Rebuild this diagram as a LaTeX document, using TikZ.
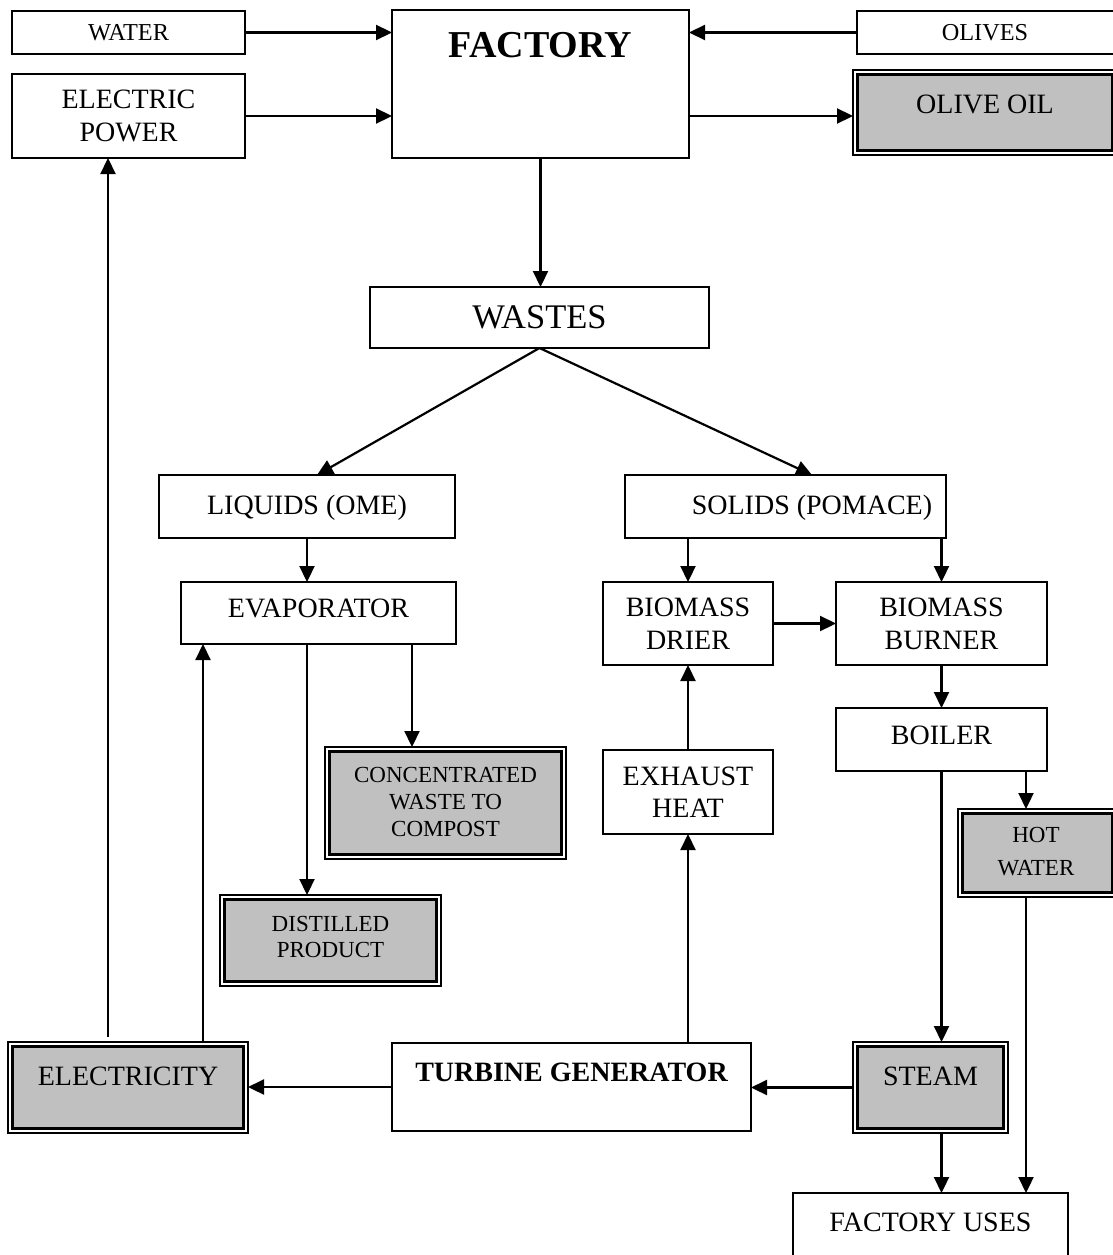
\documentclass[tikz,border=0pt]{standalone}
\usepackage{fontspec}
\setmainfont{Liberation Serif}
\usetikzlibrary{arrows.meta,calc,fit}
\definecolor{boxgray}{HTML}{C0C0C0}
\begin{document}
\begin{tikzpicture}[x=1pt,y=-1pt,
  box/.style={draw=black, line width=1.6pt, fill=white, inner sep=0pt, outer sep=0pt, rectangle},
  dbox/.style={draw=black, line width=1.4pt, fill=white, inner sep=0pt, outer sep=0pt, rectangle},
  inbox/.style={draw=black, line width=3.3pt, fill=boxgray},
  arr/.style={line width=2.2pt, -{Triangle[length=16pt,width=15pt]}},
  tmain/.style={font=\fontsize{28}{32.5}\selectfont, align=center, inner sep=0pt},
  ttop/.style={font=\fontsize{24.3}{28}\selectfont, align=center, inner sep=0pt},
  tsmall/.style={font=\fontsize{23}{26.8}\selectfont, align=center, inner sep=0pt},
  tbold/.style={font=\fontsize{28}{32}\selectfont\bfseries, align=center, inner sep=0pt},
]
\useasboundingbox (0,0) rectangle (1112,1255);

% boxes
\node[box, fit={(12,11)(245,54)}] (water) {};
\node[box, fit={(12,74)(245,158)}] (epower) {};
\node[box, fit={(392,10)(689,158)}] (factory) {};
\node[box, fit={(857,11)(1116,54)}] (olives) {};
\node[dbox, fit={(853,70)(1117,155)}] (oliveoil) {};
\node[box, fit={(370,287)(709,348)}] (wastes) {};
\node[box, fit={(159,475)(455,538)}] (liquids) {};
\node[box, fit={(625,475)(946,538)}] (solids) {};
\node[box, fit={(181,582)(456,644)}] (evap) {};
\node[box, fit={(603,582)(773,665)}] (drier) {};
\node[box, fit={(836,582)(1047,665)}] (burner) {};
\node[box, fit={(836,708)(1047,771)}] (boiler) {};
\node[dbox, fit={(325,747)(566,859)}] (conc) {};
\node[box, fit={(603,750)(773,834)}] (exhaust) {};
\node[dbox, fit={(958,809)(1117,897)}] (hotwater) {};
\node[dbox, fit={(220,895)(441,986)}] (distilled) {};
\node[dbox, fit={(8,1042)(248,1133)}] (elec) {};
\node[box, fit={(392,1043)(751,1131)}] (turbine) {};
\node[dbox, fit={(853,1042)(1008,1133)}] (steam) {};
\node[box, fit={(793,1193)(1068,1265)}] (fuses) {};

% inner thick borders of the double boxes
\foreach \n in {oliveoil,conc,hotwater,distilled,elec,steam}{
  \draw[inbox] ([shift={(4.5,4.5)}]\n.north west) rectangle ([shift={(-4.5,-4.5)}]\n.south east);
}

% labels
\node[ttop] (t-water) at (128.5,32.5) {WATER};
\node[ttop] (t-olives) at (985,32.5) {OLIVES};
\node[tmain] (t-epower) at (128.5,116) {ELECTRIC\\POWER};
\node[font=\fontsize{38}{42}\selectfont\bfseries, inner sep=0pt] (t-factory) at (540.5,45) {FACTORY};
\node[tmain] (t-oliveoil) at (985,104) {OLIVE OIL};
\node[font=\fontsize{34.5}{38}\selectfont, inner sep=0pt] (t-wastes) at (539.5,317) {WASTES};
\node[tmain] (t-liquids) at (307,508) {LIQUIDS (OME)};
\node[tmain] (t-solids) at (812,508) {SOLIDS (POMACE)};
\node[tmain] (t-evap) at (318.5,608) {EVAPORATOR};
\node[tmain] (t-drier) at (688,624) {BIOMASS\\DRIER};
\node[tmain] (t-burner) at (941.5,624) {BIOMASS\\BURNER};
\node[tmain] (t-boiler) at (941.5,735) {BOILER};
\node[tsmall] (t-conc) at (445.5,802) {CONCENTRATED\\WASTE TO\\COMPOST};
\node[tmain] (t-exhaust) at (688,792) {EXHAUST\\HEAT};
\node[font=\fontsize{23}{33}\selectfont, align=center, inner sep=0pt] (t-hotwater) at (1036,851.5) {HOT\\WATER};
\node[tsmall] (t-distilled) at (330.5,937) {DISTILLED\\PRODUCT};
\node[tmain] (t-elec) at (128,1076) {ELECTRICITY};
\node[tbold] (t-turbine) at (571.5,1072) {TURBINE GENERATOR};
\node[tmain] (t-steam) at (930.5,1076) {STEAM};
\node[tmain] (t-fuses) at (930.5,1222) {FACTORY USES};

% helper coordinates
\coordinate (xa) at (412,0);
\coordinate (xb) at (203,0);
\coordinate (xc) at (108,0);
\coordinate (xd) at (1026,0);
\coordinate (lqt) at (317,475);
\coordinate (sdt) at (812,475);

% connectors
\draw[arr] (water.east) -- (water.east -| factory.west);
\draw[arr] (epower.east) -- (epower.east -| factory.west);
\draw[arr] (olives.west) -- (olives.west -| factory.east);
\draw[arr] (factory.east |- epower.east) -- (oliveoil.west |- epower.east);
\draw[arr] (factory.south) -- (factory.south |- wastes.north);
\draw[arr] (wastes.south) -- (lqt);
\draw[arr] (wastes.south) -- (sdt);
\draw[arr] (liquids.south) -- (liquids.south |- evap.north);
\draw[arr] (drier.north |- solids.south) -- (drier.north);
\draw[arr] (burner.north |- solids.south) -- (burner.north);
\draw[arr] (drier.east) -- (drier.east -| burner.west);
\draw[arr] (burner.south) -- (boiler.north);
\draw[arr] (boiler.south) -- (boiler.south |- steam.north);
\draw[arr] (boiler.south -| xd) -- (hotwater.north -| xd);
\draw[arr] (hotwater.south -| xd) -- (fuses.north -| xd);
\draw[arr] (steam.south -| boiler.south) -- (fuses.north -| boiler.south);
\draw[arr] (steam.west) -- (steam.west -| turbine.east);
\draw[arr] (turbine.west) -- (turbine.west -| elec.east);
\draw[arr] (turbine.north -| exhaust.south) -- (exhaust.south);
\draw[arr] (exhaust.north) -- (drier.south);
\draw[arr] (evap.south -| xa) -- (conc.north -| xa);
\draw[arr] (evap.south -| liquids.south) -- (distilled.north -| liquids.south);
\draw[arr] (elec.north -| xb) -- (evap.south -| xb);
\draw[arr] ($(elec.north -| xc)+(0,-5)$) -- (epower.south -| xc);
\end{tikzpicture}
\end{document}
